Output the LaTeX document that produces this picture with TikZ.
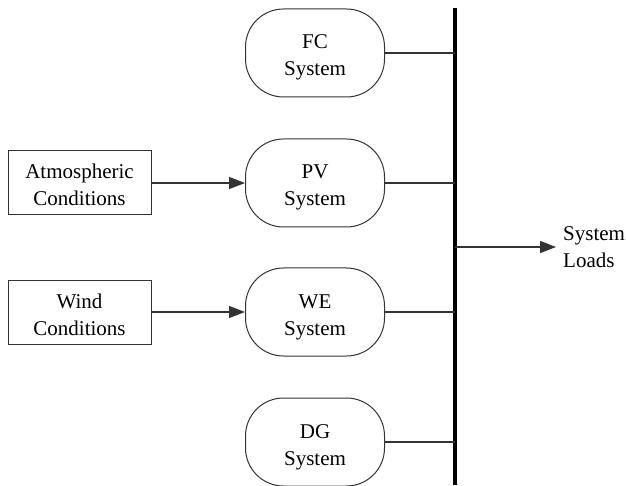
\documentclass[tikz,border=0pt]{standalone}
\usepackage{fontspec}
\setmainfont{Liberation Serif}
\usetikzlibrary{arrows.meta}
\definecolor{ink}{HTML}{333333}
\begin{document}
\begin{tikzpicture}[x=1pt,y=-1pt,
  txt/.style={font=\fontsize{21}{27}\selectfont, align=center, inner sep=0pt,
    text height=46pt, text depth=0pt},
  pill/.style={txt, draw=ink, line width=1pt, rectangle, rounded corners=38pt,
    minimum width=139pt, minimum height=88pt},
  inbox/.style={txt, draw=ink, line width=1pt, rectangle, minimum width=143pt, minimum height=64pt},
  link/.style={draw=ink, line width=1.2pt},
  feed/.style={link, -{Triangle[length=16pt,width=12pt]}}]
\useasboundingbox (0,0) rectangle (626,486);

% main bus
\coordinate (busTop) at (455,8);
\coordinate (busBot) at (455,485);
\draw[line width=3.5pt, black] (busTop) -- (busBot);

% generation units
\node[pill] (fc) at (315,53)  {FC\\System};
\node[pill] (pv) at (315,183) {PV\\System};
\node[pill] (we) at (315,312) {WE\\System};
\node[pill] (dg) at (315,442) {DG\\System};

% external conditions
\node[inbox] (atm)  at (79.5,183) {Atmospheric\\Conditions};
\node[inbox] (wind) at (79.5,312) {Wind\\Conditions};

% load
\node[txt, align=left, anchor=west, text height=40pt] (load) at (563,247) {System\\Loads};
\coordinate (busLoad) at (455,247);

% connections
\draw[feed] (atm) -- (pv.west);
\draw[feed] (wind) -- (we.west);
\foreach \u in {fc,pv,we,dg}
  \draw[link] (\u.east) -- (\u.east -| busTop);
\draw[feed] (busLoad) -- ([xshift=-7pt]load.west);
\end{tikzpicture}
\end{document}
